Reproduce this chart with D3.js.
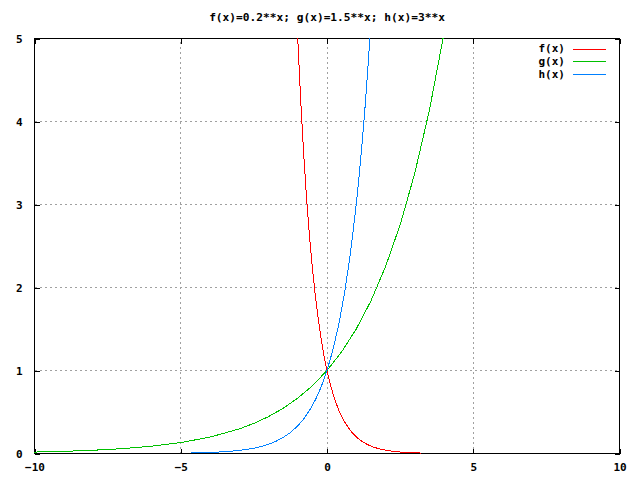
<!DOCTYPE html>
<html><head><meta charset="utf-8">
<script src="https://cdn.jsdelivr.net/npm/d3@7"></script>
<style>body{margin:0;background:#fff}svg{display:block}text{font-family:"DejaVu Sans Mono",monospace;font-weight:bold;font-size:11px;fill:#000}</style>
</head><body>
<script>
const titleText = "f(x)=0.2**x; g(x)=1.5**x; h(x)=3**x";
const seriesNames = ["f(x)", "g(x)", "h(x)"];
const xTicks = [-10, -5, 0, 5, 10];
const yTicks = [0, 1, 2, 3, 4, 5];

const fX = [-1.2,-1.1,-1.0,-0.9,-0.8,-0.7,-0.6,-0.5,-0.4,-0.3,-0.2,-0.1,0,0.1,0.2,0.3,0.4,0.5,0.6,0.8,1.0,1.2,1.4,1.6,1.8,2.0,2.2,2.4,2.6,2.8,3.0,3.2];
const fY = [6.899,5.873,5,4.257,3.624,3.085,2.627,2.236,1.904,1.621,1.380,1.175,1,0.851,0.725,0.617,0.525,0.447,0.381,0.276,0.2,0.145,0.105,0.076,0.055,0.04,0.029,0.021,0.015,0.011,0.008,0.0058];
const gX = [-10,-9,-8,-7,-6,-5,-4,-3,-2.5,-2,-1.5,-1,-0.5,0,0.5,1,1.5,2,2.5,3,3.5,4,4.5];
const gY = [0.0173,0.0260,0.0390,0.0585,0.0878,0.1317,0.1975,0.2963,0.3629,0.4444,0.5443,0.6667,0.8165,1,1.2247,1.5,1.8371,2.25,2.7557,3.375,4.1335,5.0625,6.2002];
const hX = [-4.65,-4.5,-4,-3.5,-3,-2.75,-2.5,-2.25,-2,-1.75,-1.5,-1.25,-1,-0.8,-0.6,-0.4,-0.2,0,0.2,0.4,0.6,0.8,1.0,1.1,1.2,1.3,1.4,1.5,1.6];
const hY = [0.00605,0.00713,0.01235,0.02138,0.0370,0.0487,0.0642,0.0844,0.1111,0.1462,0.1925,0.2533,0.3333,0.4152,0.5173,0.6444,0.8027,1,1.2457,1.5518,1.9332,2.4082,3,3.348,3.737,4.171,4.656,5.196,5.800];
const colors = ["#ff0000", "#00c000", "#0080ff"];

const W = 640, H = 480;
const L = 34.5, R = 619.5, T = 38.5, B = 453.5;
const svg = d3.select("body").append("svg").attr("width", W).attr("height", H);
const x = d3.scaleLinear().domain([-10, 10]).range([L, R]);
const y = d3.scaleLinear().domain([0, 5]).range([B, T]);

// grid
const grid = svg.append("g").attr("stroke", "#a0a0a0").attr("stroke-dasharray", "2,3").attr("shape-rendering", "crispEdges");
xTicks.filter(t => t > -10 && t < 10).forEach(t => grid.append("line").attr("x1", x(t)).attr("x2", x(t)).attr("y1", B).attr("y2", T));
yTicks.filter(t => t > 0 && t < 5).forEach(t => grid.append("line").attr("y1", y(t)).attr("y2", y(t)).attr("x1", L).attr("x2", R));

// axes
function styleAxis(g) { g.select(".domain").remove(); g.selectAll("line").attr("stroke", "#000").attr("shape-rendering", "crispEdges"); g.selectAll("text").attr("font-family", null).attr("font-size", null); }
svg.append("g").attr("transform", `translate(0,${B})`).call(d3.axisBottom(x).tickValues(xTicks).tickSize(-5).tickPadding(10).tickFormat(d3.format("d"))).call(styleAxis);
svg.append("g").attr("transform", `translate(0,${T})`).call(d3.axisTop(x).tickValues(xTicks).tickSize(-5).tickFormat("")).call(styleAxis);
svg.append("g").attr("transform", `translate(${L},0)`).call(d3.axisLeft(y).tickValues(yTicks).tickSize(-5).tickPadding(12).tickFormat(d3.format("d"))).call(styleAxis);
svg.append("g").attr("transform", `translate(${R},0)`).call(d3.axisRight(y).tickValues(yTicks).tickSize(-5).tickFormat("")).call(styleAxis);
svg.selectAll("g text").attr("font-size", "11px");

// border
svg.append("rect").attr("x", L).attr("y", T).attr("width", R - L).attr("height", B - T).attr("fill", "none").attr("stroke", "#000").attr("shape-rendering", "crispEdges");

// curves
svg.append("clipPath").attr("id", "clip").append("rect").attr("x", L - 0.5).attr("y", T - 0.5).attr("width", R - L + 1).attr("height", B - T + 1);
const line = d3.line().x(d => x(d[0])).y(d => y(d[1]));
const series = [d3.zip(fX, fY), d3.zip(gX, gY), d3.zip(hX, hY)];
const cg = svg.append("g").attr("clip-path", "url(#clip)");
series.forEach((s, i) => cg.append("path").datum(s).attr("d", line).attr("fill", "none").attr("stroke", colors[i]).attr("stroke-width", 1).attr("shape-rendering", "crispEdges"));

// title
svg.append("text").attr("x", (L + R) / 2).attr("y", 21).attr("text-anchor", "middle").style("font-size", "11.2px").text(titleText);

// legend
seriesNames.forEach((n, i) => {
  const yy = 48.5 + i * 12.7;
  svg.append("text").attr("x", 565).attr("y", yy).attr("dy", "0.35em").attr("text-anchor", "end").text(n);
  svg.append("line").attr("x1", 573).attr("x2", 606).attr("y1", Math.round(yy) + 0.5).attr("y2", Math.round(yy) + 0.5).attr("stroke", colors[i]).attr("shape-rendering", "crispEdges");
});
</script>
</body></html>
